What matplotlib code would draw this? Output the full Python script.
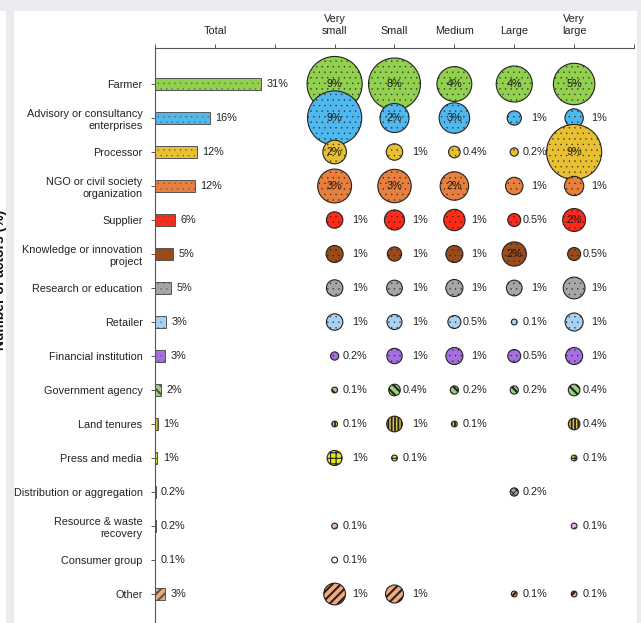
import numpy as np
import matplotlib
matplotlib.use("Agg")
import matplotlib.pyplot as plt
from matplotlib.patches import Rectangle

plt.rcParams['font.family'] = ['Liberation Sans', 'DejaVu Sans']

nan = np.nan

categories = [
    "Farmer", "Advisory or consultancy\nenterprises", "Processor",
    "NGO or civil society\norganization", "Supplier",
    "Knowledge or innovation\nproject", "Research or education", "Retailer",
    "Financial institution", "Government agency", "Land tenures",
    "Press and media", "Distribution or aggregation",
    "Resource & waste\nrecovery", "Consumer group", "Other",
]
total = [31.0, 16.1, 12.3, 11.7, 5.8, 5.4, 4.7, 3.2, 2.9, 1.7, 0.9, 0.7, 0.2, 0.2, 0.1, 2.9]

size_classes = ["Very\nsmall", "Small", "Medium", "Large", "Very\nlarge"]
very_small = [9.0, 8.7, 1.65, 3.4, 0.8, 0.86, 0.8, 0.8, 0.2, 0.1, 0.1, 0.67, nan, 0.1, 0.1, 1.4]
small = [8.0, 2.5, 0.8, 3.3, 1.2, 0.6, 0.73, 0.67, 0.7, 0.4, 0.73, 0.1, nan, nan, nan, 0.96]
medium = [3.6, 2.75, 0.4, 2.4, 1.35, 0.86, 0.86, 0.5, 0.86, 0.2, 0.1, nan, nan, nan, nan, nan]
large = [3.85, 0.6, 0.2, 0.9, 0.5, 1.74, 0.73, 0.1, 0.5, 0.2, nan, nan, 0.2, nan, nan, 0.1]
very_large = [5.1, 1.0, 9.0, 1.1, 1.55, 0.5, 1.4, 0.96, 0.86, 0.4, 0.4, 0.1, nan, 0.1, nan, 0.1]

colors = ['#92d050', '#4fb8ee', '#e8c032', '#e87f3c', '#ff2a18', '#9c4a1a',
          '#a6a6a6', '#a9d1f2', '#a66fe0', '#9ad27a', '#dcc43e', '#e2e61e',
          '#a0a0a0', '#e2b4e4', '#ffffff', '#f2a97a']
hatches = ['...', '...', '...', '...', '...', '...', '...', '...', '...',
           '\\\\\\\\', '|||||', '+++', 'xxxxx', '...', '', '////']
hatch_lw = [0.2] * 9 + [1.5, 1.3, 0.8, 0.6, 0.2, 0.2, 1.5]
hatch_col = ['#5a5a5a'] * 9 + ['#111111', '#111111', '#333333', '#444444',
                               '#5a5a5a', '#5a5a5a', '#111111']


def pct(v):
    r = round(v)
    return f"{r}%" if r >= 1 else f"{v:.1f}%"


fig = plt.figure(figsize=(6.41, 6.23), dpi=100, facecolor='#ecebef')
W, H = 641, 623
fig.patches.append(Rectangle((0, 0), 6 / W, 612 / H, transform=fig.transFigure,
                             facecolor='white', edgecolor='none', zorder=-5))
fig.patches.append(Rectangle((14 / W, 0), 623 / W, 612 / H, transform=fig.transFigure,
                             facecolor='white', edgecolor='none', zorder=-5))
fig.text(0, 1 - 280 / H, "Number of actors (%)", rotation=90, ha='center', va='center',
         fontsize=10, fontweight='bold', color='#111111', zorder=3)
fig.patches.append(Rectangle((6 / W, 0), 8 / W, 612 / H, transform=fig.transFigure,
                             facecolor='#ecebef', edgecolor='none', zorder=5))

ax = fig.add_axes([155 / W, 0, 479 / W, 575 / H])
ax.set_facecolor('none')
rows = np.arange(len(categories))
ax.set_xlim(0, 8)
ax.set_ylim(15.853, -1.059)

# total bars
bar_scale = 1.77 / 31
for i, v in enumerate(total):
    with plt.rc_context({'hatch.linewidth': hatch_lw[i], 'hatch.color': hatch_col[i]}):
        ax.barh(i, v * bar_scale, height=0.36, color=colors[i], edgecolor='#555555',
                linewidth=0.7, hatch=hatches[i], zorder=2)
    ax.text(v * bar_scale + 0.09, i, pct(v), ha='left', va='center',
            fontsize=7.8, color='#222222')

# bubbles
series = [very_small, small, medium, large, very_large]
for c, vals in enumerate(series):
    x = 3 + c
    for i, v in enumerate(vals):
        if np.isnan(v):
            continue
        with plt.rc_context({'hatch.linewidth': hatch_lw[i], 'hatch.color': hatch_col[i]}):
            ax.scatter(x, i, s=175 * v, color=colors[i], edgecolors='#222222',
                       linewidths=0.8, hatch=hatches[i], zorder=3 + i * 0.01)
        if round(v) >= 2:
            ax.text(x, i, pct(v), ha='center', va='center', fontsize=7.8,
                    color='#1a1a1a', zorder=10)
        else:
            ax.text(x + 0.55, i, pct(v), ha='right', va='center', fontsize=7.8,
                    color='#222222', zorder=10)

ax.xaxis.tick_top()
ax.set_xticks(range(9))
ax.set_xticklabels(['', 'Total', ''] + size_classes + [''])
ax.set_yticks(rows)
ax.set_yticklabels(categories)
ax.tick_params(axis='x', length=3, width=0.7, color='#555555', pad=6,
               labelsize=7.8, labelcolor='#222222')
ax.tick_params(axis='y', length=3, width=0.7, color='#555555', pad=6,
               labelsize=7.8, labelcolor='#222222')
for side in ['right', 'bottom']:
    ax.spines[side].set_visible(False)
for side in ['top', 'left']:
    ax.spines[side].set_color('#555555')
    ax.spines[side].set_linewidth(0.8)

fig.savefig('out.png', dpi=100, facecolor=fig.get_facecolor())
